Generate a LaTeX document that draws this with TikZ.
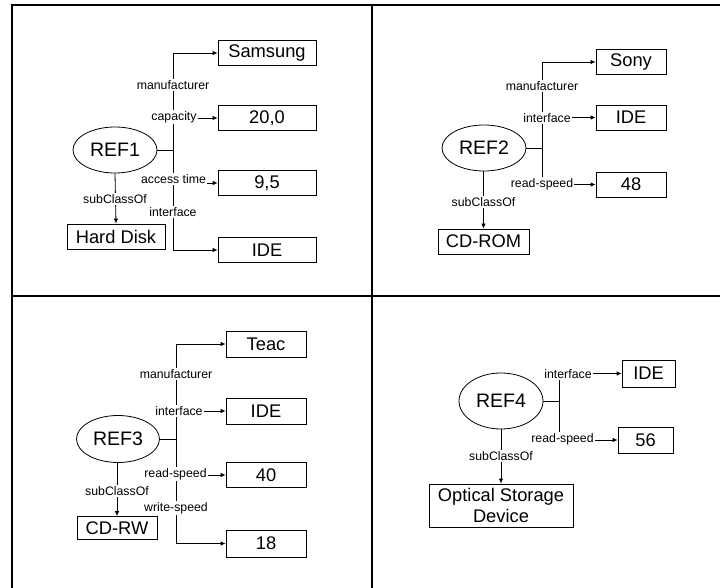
\documentclass[tikz,border=0pt]{standalone}
\usepackage{fontspec}
\setmainfont{Liberation Sans}
\usetikzlibrary{arrows.meta,shapes.geometric}

\begin{document}
\begin{tikzpicture}[x=1pt,y=-1pt,>={Latex[length=5pt,width=4.5pt]},line width=0.8pt,
   cl/.style={draw, ellipse, minimum width=84pt, minimum height=46pt, inner sep=0pt, font=\fontsize{19.5}{21}\selectfont},
   bx/.style={draw, minimum height=25pt, inner sep=1pt, font=\fontsize{18.3}{21}\selectfont},
   lb/.style={fill=white, inner sep=1pt, font=\fontsize{12.3}{14}\selectfont}]
  \useasboundingbox (0,0) rectangle (720,588);
  % table
  \draw[line width=1.2pt] (12,588) -- (12,5) -- (720,5);
  \draw[line width=1.2pt] (372,5) -- (372,588);
  \draw[line width=1.2pt] (12,296) -- (720,296);
  % REF1
  \node[cl] (ref1) at (115,150) {REF1};
  \coordinate (t1) at (173,150);
  \node[bx, minimum width=98pt] (sam) at (267,53) {Samsung};
  \node[bx, minimum width=98pt] (cap) at (267,118) {20,0};
  \node[bx, minimum width=98pt] (acc) at (267,183) {9,5};
  \node[bx, minimum width=98pt] (ide1) at (267,250) {IDE};
  \node[bx, minimum width=98pt] (hd) at (116,236.5) {Hard Disk};
  \draw (ref1.east) -- (t1);
  \draw[->] (t1) |- (sam.west);
  \draw[->] (t1) |- (ide1.west);
  \draw[->] (cap.west -| t1) -- (cap.west);
  \draw[->] (acc.west -| t1) -- (acc.west);
  \draw[->] (ref1.south) -- (hd.north);
  \node[lb] (l1a) at (173,85) {manufacturer};
  \node[lb] (l1b) at (174,117) {capacity};
  \node[lb] (l1c) at (173.5,179) {access time};
  \node[lb] (l1d) at (173,212) {interface};
  \node[lb] (l1e) at (115,199) {subClassOf};
  % REF2
  \node[cl] (ref2) at (484,148) {REF2};
  \coordinate (t2) at (542,148);
  \node[bx, minimum width=70pt] (sony) at (631,62) {Sony};
  \node[bx, minimum width=70pt] (ide2) at (631,117.5) {IDE};
  \node[bx, minimum width=70pt] (rs2) at (631,184.5) {48};
  \node[bx, minimum width=91pt] (cdrom) at (483.5,241.5) {CD-ROM};
  \draw (ref2.east) -- (t2);
  \draw[->] (t2) |- (sony.west);
  \draw[->] (t2) |- (rs2.west);
  \draw[->] (ide2.west -| t2) -- (ide2.west);
  \draw[->] (ref2.south -| cdrom.north) -- (cdrom.north);
  \node[lb] (l2a) at (542,86) {manufacturer};
  \node[lb] (l2b) at (547,118) {interface};
  \node[lb] (l2c) at (542,184) {read-speed};
  \node[lb] (l2d) at (483.5,202) {subClassOf};
  % REF3
  \node[cl, minimum width=83pt, minimum height=47pt] (ref3) at (118,439) {REF3};
  \coordinate (t3) at (176,439);
  \node[bx, minimum width=80pt, minimum height=26pt] (teac) at (266,344) {Teac};
  \node[bx, minimum width=80pt, minimum height=26pt] (ide3) at (266,411) {IDE};
  \node[bx, minimum width=80pt] (rs3) at (266,475) {40};
  \node[bx, minimum width=80pt, minimum height=27pt] (ws3) at (266,543.5) {18};
  \node[bx, minimum width=80pt, minimum height=23pt] (cdrw) at (117,528) {CD-RW};
  \draw (ref3.east) -- (t3);
  \draw[->] (t3) |- (teac.west);
  \draw[->] (t3) |- (ws3.west);
  \draw[->] (ide3.west -| t3) -- (ide3.west);
  \draw[->] (rs3.west -| t3) -- (rs3.west);
  \draw[->] (ref3.south -| cdrw.north) -- (cdrw.north);
  \node[lb] (l3a) at (176,374) {manufacturer};
  \node[lb] (l3b) at (179,411) {interface};
  \node[lb] (l3c) at (175.5,474) {read-speed};
  \node[lb] (l3d) at (176,508) {write-speed};
  \node[lb] (l3e) at (117,491) {subClassOf};
  % REF4
  \node[cl, minimum height=56pt] (ref4) at (501,401) {REF4};
  \coordinate (t4) at (559,401);
  \node[bx, minimum width=53pt, minimum height=27pt] (ide4) at (648.5,373.5) {IDE};
  \node[bx, minimum width=55pt, minimum height=26pt] (rs4) at (645.5,440) {56};
  \node[bx, minimum width=144pt, minimum height=43pt, align=center] (osd) at (501,505.5) {Optical Storage\\Device};
  \draw (ref4.east) -- (t4);
  \draw[->] (t4) |- (ide4.west);
  \draw[->] (t4) |- (rs4.west);
  \draw[->] (ref4.south) -- (osd.north);
  \node[lb] (l4a) at (568,374) {interface};
  \node[lb] (l4b) at (562.5,439) {read-speed};
  \node[lb] (l4c) at (501,456) {subClassOf};
\end{tikzpicture}
\end{document}
